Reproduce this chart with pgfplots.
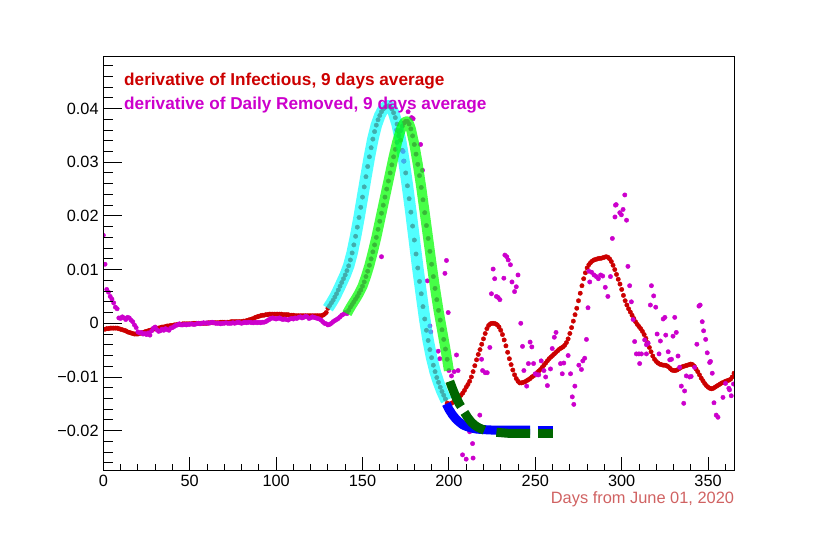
\documentclass[border=0pt]{standalone}
\usepackage{pgfplots}
\pgfplotsset{compat=1.18}
\usepackage{fontspec}
\setmainfont{Liberation Sans}
\definecolor{rred}{rgb}{0.8,0,0}
\definecolor{rmag}{rgb}{0.8,0,0.8}
\definecolor{rtitle}{RGB}{208,98,98}
\definecolor{rdkgreen}{rgb}{0,0.4,0}
\definecolor{rcyan}{rgb}{0,1,1}
\definecolor{rgreen}{rgb}{0,1,0}
\definecolor{rblue}{rgb}{0,0,1}
\begin{document}
\begin{tikzpicture}[x=1bp,y=1bp]
\path[use as bounding box] (0,0) rectangle (830,538);
\begin{axis}[
  at={(103.3bp,68bp)}, anchor=south west,
  scale only axis, width=630.7bp, height=414bp,
  xmin=0, xmax=365, ymin=-0.02732, ymax=0.04978,
  axis line style={line width=0.9bp},
  tick align=inside, xtick pos=bottom, ytick pos=left,
  xtick={0,50,...,350}, minor xtick={10,20,...,360},
  ytick=\empty, scaled y ticks=false,
  major tick length=12.5bp, minor tick length=6.2bp,
  tick style={line width=0.9bp, black},
  xticklabel style={font=\fontsize{16.3bp}{18bp}\selectfont, inner sep=0pt, anchor=north, yshift=-5bp},
  /pgf/number format/assume math mode=true,
  clip marker paths=true,
]
% red: derivative of Infectious
\addplot[only marks, mark=*, mark size=2.2bp, color=rred] coordinates {
(0,-0.0011)(1,-0.0011)(2,-0.0010)(3,-0.0010)(4,-0.0009)(5,-0.0009)(6,-0.0009)(7,-0.0009)(8,-0.0009)(9,-0.0010)
(10,-0.0011)(11,-0.0012)(12,-0.0013)(13,-0.0014)(14,-0.0016)(15,-0.0017)(16,-0.0018)(17,-0.0019)(18,-0.0020)(19,-0.0020)
(20,-0.0020)(21,-0.0019)(22,-0.0018)(23,-0.0017)(24,-0.0016)(25,-0.0015)(26,-0.0014)(27,-0.0013)(28,-0.0012)(29,-0.0011)
(30,-0.0010)(31,-0.0009)(32,-0.0009)(33,-0.0008)(34,-0.0007)(35,-0.0007)(36,-0.0006)(37,-0.0005)(38,-0.0005)(39,-0.0004)
(40,-0.0004)(41,-0.0003)(42,-0.0003)(43,-0.0002)(44,-0.0002)(45,-0.0002)(46,-0.0001)(47,-0.0001)(48,-0.0001)(49,-0.0001)
(50,-0.0001)(51,-0.0001)(52,0.0000)(53,0.0000)(54,0.0000)(55,0.0000)(56,0.0000)(57,0.0000)(58,0.0000)(59,0.0000)
(60,0.0000)(61,0.0001)(62,0.0001)(63,0.0001)(64,0.0001)(65,0.0001)(66,0.0001)(67,0.0001)(68,0.0002)(69,0.0002)
(70,0.0002)(71,0.0002)(72,0.0002)(73,0.0002)(74,0.0003)(75,0.0003)(76,0.0003)(77,0.0003)(78,0.0003)(79,0.0003)
(80,0.0003)(81,0.0004)(82,0.0004)(83,0.0005)(84,0.0006)(85,0.0007)(86,0.0008)(87,0.0009)(88,0.0011)(89,0.0012)
(90,0.0013)(91,0.0014)(92,0.0015)(93,0.0015)(94,0.0016)(95,0.0016)(96,0.0017)(97,0.0017)(98,0.0017)(99,0.0017)
(100,0.0017)(101,0.0017)(102,0.0017)(103,0.0017)(104,0.0016)(105,0.0016)(106,0.0016)(107,0.0016)(108,0.0015)(109,0.0015)
(110,0.0015)(111,0.0014)(112,0.0014)(113,0.0014)(114,0.0014)(115,0.0014)(116,0.0014)(117,0.0014)(118,0.0014)(119,0.0014)
(120,0.0014)(121,0.0014)(122,0.0014)(123,0.0014)(124,0.0014)(125,0.0014)(126,0.0014)(127,0.0015)(128,0.0017)(129,0.0020)
(130,0.0028)(131,0.0033)(132,0.0038)(133,0.0043)(134,0.0049)(135,0.0055)(136,0.0062)(137,0.0069)(138,0.0076)(139,0.0083)
(140,0.0090)(141,0.0098)(142,0.0107)(143,0.0118)(144,0.0131)(145,0.0146)(146,0.0162)(147,0.0179)(148,0.0197)(149,0.0216)
(150,0.0235)(151,0.0254)(152,0.0273)(153,0.0292)(154,0.0310)(155,0.0327)(156,0.0343)(157,0.0357)(158,0.0369)(159,0.0379)
(160,0.0387)(161,0.0394)(162,0.0399)(163,0.0402)(164,0.0404)(165,0.0405)(166,0.0403)(167,0.0399)(168,0.0392)(169,0.0383)
(170,0.0371)(171,0.0357)(172,0.0341)(173,0.0322)(174,0.0302)(175,0.0280)(176,0.0256)(177,0.0232)(178,0.0207)(179,0.0181)
(180,0.0155)(181,0.0129)(182,0.0103)(183,0.0078)(184,0.0055)(185,0.0031)(186,0.0008)(187,-0.0013)(188,-0.0032)(189,-0.0049)
(190,-0.0064)(191,-0.0078)(192,-0.0090)(193,-0.0101)(194,-0.0110)(195,-0.0119)(196,-0.0127)(197,-0.0134)(198,-0.0141)(199,-0.0149)
(200,-0.0150)(201,-0.0150)(202,-0.0148)(203,-0.0146)(204,-0.0143)(205,-0.0140)(206,-0.0137)(207,-0.0134)(208,-0.0130)(209,-0.0125)
(210,-0.0119)(211,-0.0114)(212,-0.0108)(213,-0.0100)(214,-0.0090)(215,-0.0079)(216,-0.0068)(217,-0.0058)(218,-0.0049)(219,-0.0039)
(220,-0.0029)(221,-0.0019)(222,-0.0010)(223,-0.0004)(224,-0.0001)(225,0.0000)(226,0.0000)(227,-0.0001)(228,-0.0003)(229,-0.0007)
(230,-0.0013)(231,-0.0021)(232,-0.0031)(233,-0.0042)(234,-0.0054)(235,-0.0066)(236,-0.0077)(237,-0.0087)(238,-0.0096)(239,-0.0103)
(240,-0.0108)(241,-0.0111)(242,-0.0111)(243,-0.0110)(244,-0.0109)(245,-0.0107)(246,-0.0105)(247,-0.0103)(248,-0.0100)(249,-0.0098)
(250,-0.0095)(251,-0.0092)(252,-0.0089)(253,-0.0086)(254,-0.0082)(255,-0.0078)(256,-0.0074)(257,-0.0070)(258,-0.0066)(259,-0.0063)
(260,-0.0060)(261,-0.0057)(262,-0.0054)(263,-0.0051)(264,-0.0048)(265,-0.0046)(266,-0.0044)(267,-0.0041)(268,-0.0036)(269,-0.0029)
(270,-0.0019)(271,-0.0008)(272,0.0004)(273,0.0016)(274,0.0028)(275,0.0042)(276,0.0056)(277,0.0070)(278,0.0083)(279,0.0094)
(280,0.0103)(281,0.0109)(282,0.0113)(283,0.0116)(284,0.0118)(285,0.0119)(286,0.0120)(287,0.0121)(288,0.0121)(289,0.0122)
(290,0.0123)(291,0.0124)(292,0.0123)(293,0.0120)(294,0.0115)(295,0.0108)(296,0.0100)(297,0.0091)(298,0.0082)(299,0.0073)
(300,0.0063)(301,0.0052)(302,0.0042)(303,0.0034)(304,0.0027)(305,0.0021)(306,0.0015)(307,0.0009)(308,0.0003)(309,-0.0002)
(310,-0.0006)(311,-0.0010)(312,-0.0015)(313,-0.0021)(314,-0.0028)(315,-0.0036)(316,-0.0045)(317,-0.0053)(318,-0.0061)(319,-0.0067)
(320,-0.0071)(321,-0.0074)(322,-0.0076)(323,-0.0077)(324,-0.0078)(325,-0.0078)(326,-0.0079)(327,-0.0081)(328,-0.0084)(329,-0.0087)
(330,-0.0088)(331,-0.0088)(332,-0.0087)(333,-0.0085)(334,-0.0083)(335,-0.0081)(336,-0.0080)(337,-0.0079)(338,-0.0078)(339,-0.0077)
(340,-0.0076)(341,-0.0077)(342,-0.0080)(343,-0.0085)(344,-0.0090)(345,-0.0096)(346,-0.0102)(347,-0.0107)(348,-0.0112)(349,-0.0116)
(350,-0.0119)(351,-0.0121)(352,-0.0122)(353,-0.0121)(354,-0.0119)(355,-0.0117)(356,-0.0115)(357,-0.0113)(358,-0.0111)(359,-0.0110)
(360,-0.0108)(361,-0.0107)(362,-0.0106)(363,-0.0104)(364,-0.0100)(365,-0.0093)
};
% magenta: derivative of Daily Removed
\addplot[only marks, mark=*, mark size=2.2bp, color=rmag] coordinates {
(0,0.0164)(1,0.0110)(2,0.0063)(3,0.0058)(4,0.0050)(5,0.0045)(6,0.0038)(7,0.0030)(8,0.0027)(9,0.0010)
(10,0.0009)(11,0.0012)(12,0.0010)(13,0.0007)(14,0.0011)(15,0.0010)(16,0.0006)(17,0.0003)(18,-0.0003)(19,-0.0008)
(20,-0.0016)(21,-0.0018)(22,-0.0017)(23,-0.0020)(24,-0.0019)(25,-0.0021)(26,-0.0018)(27,-0.0022)(28,-0.0014)(29,-0.0009)
(30,-0.0007)(31,-0.0012)(32,-0.0015)(33,-0.0014)(34,-0.0011)(35,-0.0013)(36,-0.0010)(37,-0.0012)(38,-0.0013)(39,-0.0009)
(40,-0.0008)(41,-0.0006)(42,-0.0004)(43,-0.0003)(44,-0.0001)(45,-0.0003)(46,-0.0003)(47,-0.0002)(48,-0.0003)(49,-0.0002)
(50,-0.0002)(51,-0.0001)(52,-0.0002)(53,-0.0002)(54,-0.0001)(55,0.0000)(56,-0.0001)(57,0.0000)(58,0.0001)(59,0.0000)
(60,0.0001)(61,0.0000)(62,0.0001)(63,0.0002)(64,0.0001)(65,0.0000)(66,0.0000)(67,0.0000)(68,-0.0001)(69,0.0000)
(70,0.0000)(71,0.0001)(72,0.0000)(73,0.0000)(74,0.0000)(75,0.0001)(76,0.0000)(77,0.0001)(78,0.0002)(79,0.0001)
(80,0.0000)(81,0.0001)(82,0.0002)(83,0.0001)(84,0.0002)(85,0.0002)(86,0.0001)(87,0.0001)(88,0.0002)(89,0.0001)
(90,0.0002)(91,0.0001)(92,0.0002)(93,0.0002)(94,0.0003)(95,0.0005)(96,0.0007)(97,0.0009)(98,0.0010)(99,0.0009)
(100,0.0008)(101,0.0009)(102,0.0010)(103,0.0008)(104,0.0007)(105,0.0008)(106,0.0007)(107,0.0006)(108,0.0008)(109,0.0009)
(110,0.0008)(111,0.0010)(112,0.0009)(113,0.0011)(114,0.0012)(115,0.0010)(116,0.0011)(117,0.0013)(118,0.0012)(119,0.0009)
(120,0.0010)(121,0.0012)(122,0.0011)(123,0.0010)(124,0.0009)(125,0.0008)(126,0.0006)(127,0.0003)(128,0.0000)(129,-0.0001)
(130,-0.0003)(131,-0.0002)(132,0.0000)(133,0.0003)(134,0.0005)(135,0.0007)(136,0.0009)(137,0.0012)(138,0.0015)(139,0.0017)
(140,0.0020)(141,0.0018)(142,0.0024)(143,0.0030)(144,0.0035)(145,0.0040)(146,0.0045)(147,0.0050)(148,0.0056)(149,0.0062)
(150,0.0069)(151,0.0077)(152,0.0087)(153,0.0097)(154,0.0108)(155,0.0120)(156,0.0133)(157,0.0146)(158,0.0160)(159,0.0175)
(160,0.0190)(161,0.0205)(162,0.0220)(163,0.0235)(164,0.0250)(165,0.0265)(166,0.0280)(167,0.0295)(168,0.0310)(169,0.0324)
(170,0.0337)(171,0.0349)(172,0.0359)(173,0.0367)(174,0.0373)(175,0.0376)(176,0.0376)(177,0.0371)(178,0.0362)(179,0.0349)
(180,0.0333)(181,0.0315)(182,0.0296)(183,0.0275)(184,0.0253)(185,0.0230)(186,0.0206)(187,0.0182)(188,0.0158)(189,0.0134)
(190,0.0110)(191,0.0087)(192,0.0065)(193,0.0044)(194,0.0024)(195,0.0006)(196,-0.0012)(197,-0.0030)(198,-0.0048)(199,-0.0067)
(200,-0.0088)
(161,0.0124)(169.7,0.0360)(171.6,0.0358)(173.5,0.0320)(173.8,0.0302)(176.4,0.0394)(178.4,0.0383)(179.3,0.0381)
(183.6,0.0333)(184.7,0.0285)(187.5,0.0079)(189,-0.0005)(189.5,-0.0016)(193.8,-0.0052)(194.7,-0.0066)
(197.7,0.0093)(198.6,0.0117)(199.6,0.0020)
(201.5,-0.0098)(203.0,-0.0090)(204.4,-0.0059)(205.3,-0.0088)(207.9,-0.0245)(210.0,-0.0253)(212.0,-0.0202)(213.7,-0.0224)
(214.0,-0.0251)(217.9,-0.0171)(218.9,-0.0067)(219.5,-0.0088)(221.0,-0.0092)(222.2,-0.0092)(223.7,-0.0045)(224.6,0.0055)
(225.6,0.0101)(226.5,0.0083)(227.5,0.0050)(228.5,0.0048)(229.5,0.0044)(231.8,0.0084)(232.4,0.0127)(233.5,0.0124)
(234.3,0.0118)(235.6,0.0109)(236.5,0.0077)(238.0,0.0059)(239.0,0.0068)(240.0,0.0090)(241.6,0.0000)(242.6,-0.0043)
(243.4,-0.0088)(245.0,-0.0117)(246.0,-0.0075)(247.0,-0.0035)(248.0,-0.0044)(249.0,-0.0075)(250.0,-0.0094)(251.0,-0.0096)
(252.0,-0.0096)(253.4,-0.0070)(255.0,-0.0088)(256.0,-0.0100)(257.0,-0.0116)(258.8,-0.0085)(259.8,-0.0047)(261.0,-0.0026)
(262.0,-0.0017)(264.6,-0.0075)(265.6,-0.0094)(266.5,-0.0074)(269.0,-0.0060)(270.4,-0.0094)(271.4,-0.0137)(272.3,-0.0151)
(272.9,-0.0117)(275.2,-0.0078)(276.7,-0.0086)(277.5,-0.0070)(278.6,-0.0065)(279.6,-0.0030)(280.5,0.0029)(281.0,0.0097)
(281.5,0.0077)(282.6,0.0095)(284.0,0.0090)(285.3,0.0087)(286.5,0.0083)(287.8,0.0090)(289.0,0.0088)(290.5,0.0067)
(292.0,0.0050)(293.5,0.0087)(294.6,0.0158)(296.1,0.0198)(296.4,0.0220)(296.8,0.0221)(298.9,0.0206)(299.8,0.0202)
(300.8,0.0212)(301.8,0.0239)(302.8,0.0192)(303.6,0.0106)(304.6,0.0070)(305.6,0.0040)(306.6,0.0007)(307.5,-0.0034)
(308.5,-0.0057)(310.0,-0.0057)(311.4,-0.0057)(310.4,-0.0075)(313.3,-0.0031)(314.3,-0.0040)(315.3,-0.0037)(314.3,-0.0057)
(317.2,0.0070)(318.5,0.0051)(316.6,0.0034)(319.7,0.0030)(320.5,-0.0020)(322.4,-0.0033)(321.6,-0.0057)(324.0,0.0008)
(325.0,0.0011)(325.5,-0.0022)(326.9,-0.0053)(327.8,-0.0068)(328.8,-0.0067)(329.7,-0.0024)(330.7,0.0011)(331.6,-0.0017)
(332.6,-0.0061)(333.5,-0.0082)(334.5,-0.0117)(336.4,-0.0126)(335.9,-0.0149)(337.4,-0.0098)(339.3,-0.0100)(340.2,-0.0099)
(342.2,-0.0082)(343.5,-0.0039)(344.7,0.0032)(345.4,0.0034)(346.6,0.0003)(347.4,-0.0014)(348.6,-0.0030)(349.5,-0.0055)
(350.9,-0.0073)(351.4,-0.0071)(352.4,-0.0093)(353.4,-0.0148)(354.7,-0.0171)(355.7,-0.0175)(358.6,-0.0138)(360.1,-0.0112)
(362.0,-0.0121)(362.4,-0.0124)(363.4,-0.0135)(364.7,-0.0113)
};
% cyan fit band
\addplot[no markers, line width=11.5bp, color=rcyan, opacity=0.68, line cap=butt, line join=round] coordinates {
(130,0.0028)(132,0.0038)(134,0.0049)(136,0.0062)(138,0.0076)(140,0.0090)(142,0.0107)(144,0.0131)(146,0.0162)(148,0.0197)
(150,0.0235)(152,0.0273)(154,0.0310)(156,0.0343)(158,0.0369)(160,0.0387)(162,0.0399)(163,0.0402)(164,0.0404)(165,0.0405)
(166,0.0403)(167,0.0399)(168,0.0392)(170,0.0371)(172,0.0341)(174,0.0302)(176,0.0256)(178,0.0207)(180,0.0155)(182,0.0103)
(184,0.0055)(186,0.0008)(188,-0.0032)(190,-0.0064)(192,-0.0090)(194,-0.0110)(196,-0.0127)(198,-0.0141)(198.5,-0.0144)
};
% green fit band
\addplot[no markers, line width=10bp, color=rgreen, opacity=0.72, line cap=butt, line join=round] coordinates {
(141,0.0018)(142,0.0024)(144,0.0035)(146,0.0045)(148,0.0056)(150,0.0069)(152,0.0087)(154,0.0108)(156,0.0133)(158,0.0160)
(160,0.0190)(162,0.0220)(164,0.0250)(166,0.0280)(168,0.0310)(170,0.0337)(172,0.0359)(173,0.0367)(174,0.0373)(175,0.0376)
(176,0.0376)(177,0.0371)(178,0.0362)(180,0.0333)(182,0.0296)(184,0.0253)(186,0.0206)(188,0.0158)(190,0.0110)(192,0.0065)
(194,0.0024)(196,-0.0012)(198,-0.0048)(200,-0.0088)
};
% blue fit
\addplot[no markers, line width=9bp, color=rblue, line cap=butt, line join=round] coordinates {
(198.5,-0.0150)(200,-0.0160)(202,-0.0170)(204,-0.0178)(206,-0.0184)(208,-0.0189)(210,-0.0192)(213,-0.0195)(216,-0.0197)
(220,-0.0198)(226,-0.0199)(235,-0.0199)(247,-0.0199)
};
\addplot[no markers, line width=9bp, color=rblue, line cap=butt] coordinates {(251.5,-0.0199)(260,-0.0199)};
% dark green dashed fit
\addplot[no markers, line width=9bp, color=rdkgreen, line cap=butt, line join=round] coordinates {
(200.5,-0.0108)(202,-0.0121)(204,-0.0137)(206,-0.0150)(207,-0.0155)};
\addplot[no markers, line width=9bp, color=rdkgreen, line cap=butt, line join=round] coordinates {
(209,-0.0166)(211,-0.0176)(213,-0.0184)(215,-0.0190)(217,-0.0194)(219,-0.0197)(220.5,-0.0199)};
\addplot[no markers, line width=9bp, color=rdkgreen, line cap=butt, line join=round] coordinates {
(227.5,-0.0203)(231,-0.0204)(235,-0.0205)(247,-0.0205)};
\addplot[no markers, line width=9bp, color=rdkgreen, line cap=butt] coordinates {(251.5,-0.0205)(260,-0.0205)};
\end{axis}
\begin{axis}[
  at={(103.3bp,68bp)}, anchor=south west,
  scale only axis, width=630.7bp, height=414bp,
  xmin=0, xmax=365, ymin=-0.02732, ymax=0.04978,
  axis line style={line width=0.9bp},
  tick align=inside, xtick pos=bottom, ytick pos=left,
  xtick=\empty, scaled y ticks=false,
  ytick={-0.02,-0.01,0,0.01,0.02,0.03,0.04},
  yticklabels={−0.02,−0.01,0,0.01,0.02,0.03,0.04},
  minor ytick={-0.026,-0.024,-0.022,-0.018,-0.016,-0.014,-0.012,-0.008,-0.006,-0.004,-0.002,0.002,0.004,0.006,0.008,0.012,0.014,0.016,0.018,0.022,0.024,0.026,0.028,0.032,0.034,0.036,0.038,0.042,0.044,0.046,0.048},
  major tick length=19bp, minor tick length=9.5bp,
  tick style={line width=0.9bp, black},
  yticklabel style={font=\fontsize{16.3bp}{18bp}\selectfont, inner sep=0pt, anchor=east, xshift=-4.5bp},
]
\end{axis}
\node[anchor=base west, inner sep=0pt, text=rred, font=\bfseries\fontsize{17.2bp}{20bp}\selectfont] at (124,452.7) {derivative of Infectious, 9 days average};
\node[anchor=base west, inner sep=0pt, text=rmag, font=\bfseries\fontsize{17.2bp}{20bp}\selectfont] at (124,428.7) {derivative of Daily Removed, 9 days average};
\node[anchor=base east, inner sep=0pt, text=rtitle, font=\fontsize{16.4bp}{19bp}\selectfont] at (734.3,34.7) {Days from June 01, 2020};
\end{tikzpicture}
\end{document}
